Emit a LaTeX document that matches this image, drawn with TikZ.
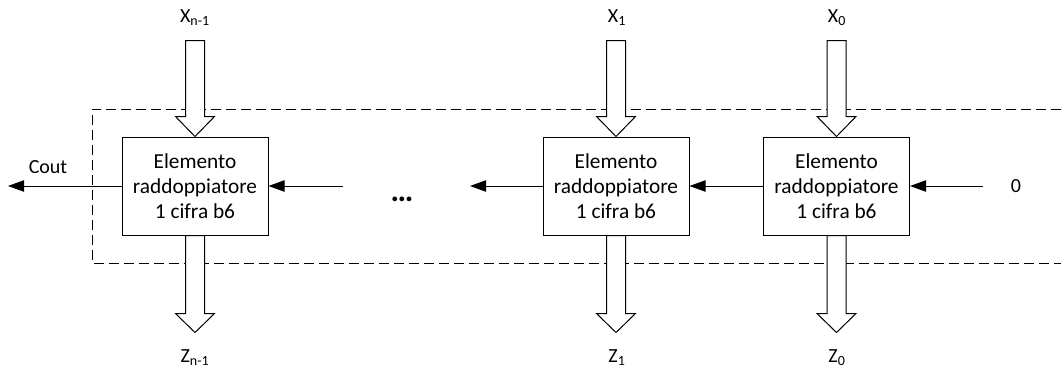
\documentclass[tikz,border=0pt]{standalone}
\usepackage{fontspec}
\setmainfont{Carlito}
\usetikzlibrary{arrows.meta}
\begin{document}
\begin{tikzpicture}[x=0.75pt,y=-0.75pt,
  line width=0.75pt,
  elem/.style={draw, fill=white, minimum width=109.5pt, minimum height=73.5pt, inner sep=0pt,
    align=center, font=\fontsize{16}{19}\selectfont},
  lbl/.style={inner sep=0pt, font=\fontsize{15}{17}\selectfont},
  sig/.style={-{Triangle[length=12pt,width=8.5pt]}},
  hollow/.style={draw, fill=white, line width=0.75pt, line join=miter},
  frame/.style={dash pattern=on 7.5pt off 3.75pt}]
\useasboundingbox (0,0) rectangle (1061,369);
% dashed frame (open at the right edge)
\draw[frame] (1061,109) -- (92,109) -- (92,263) -- (1061,263);
% boxes
\node[elem] (b1) at (195,186) {Elemento\\raddoppiatore\\1 cifra b6};
\node[elem] (b2) at (616,186) {Elemento\\raddoppiatore\\1 cifra b6};
\node[elem] (b3) at (836.5,186) {Elemento\\raddoppiatore\\1 cifra b6};
% hollow arrows
\foreach \b in {b1,b2,b3}{
  \draw[hollow, shift={(\b.north)}] (-9.5,-96) -- (9.5,-96) -- (9.5,-20) -- (19.5,-20) -- (0,0) -- (-19.5,-20) -- (-9.5,-20) -- cycle;
  \draw[hollow, shift={(\b.south)}] (-9.5,0) -- (9.5,0) -- (9.5,78) -- (19.5,78) -- (0,97) -- (-19.5,78) -- (-9.5,78) -- cycle;
}
% labels
\node[lbl] (x1) at (195,18) {X\textsubscript{n-1}};
\node[lbl] (x2) at (617,18) {X\textsubscript{1}};
\node[lbl] (x3) at (837,18) {X\textsubscript{0}};
\node[lbl] (z1) at (195,358) {Z\textsubscript{n-1}};
\node[lbl] (z2) at (617,358) {Z\textsubscript{1}};
\node[lbl] (z3) at (837,358) {Z\textsubscript{0}};
\node[lbl] (cout) at (48,167) {Cout};
\node[lbl] (zero) at (1016,186) {0};
\node[lbl, anchor=base, font=\fontsize{24}{26}\selectfont\bfseries] (dots) at (402,201) {…};
% signal arrows
\coordinate (cl) at (8,186);
\coordinate (in1) at (343,186);
\coordinate (out2) at (470,186);
\coordinate (in3) at (983,186);
\draw[sig] (b1.west) -- (cl);
\draw[sig] (in1) -- (b1.east);
\draw[sig] (b2.west) -- (out2);
\draw[sig] (b3.west) -- (b2.east);
\draw[sig] (in3) -- (b3.east);
\end{tikzpicture}
\end{document}
